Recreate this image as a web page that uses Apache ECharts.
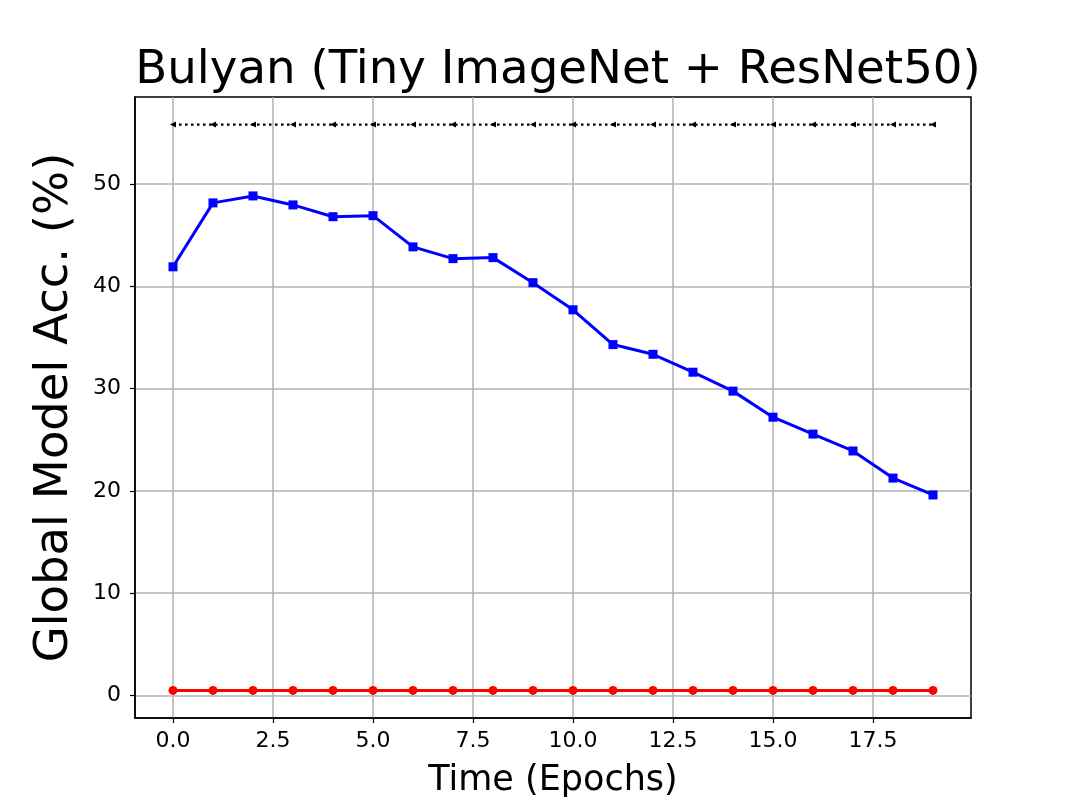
<!DOCTYPE html>
<html><head><meta charset="utf-8">
<script src="https://cdn.jsdelivr.net/npm/echarts@6/dist/echarts.min.js"></script>
<style>html,body{margin:0;padding:0;background:#fff}#c{width:1079px;height:809px}</style>
</head><body><div id="c"></div>
<script>
const epochs = [0,1,2,3,4,5,6,7,8,9,10,11,12,13,14,15,16,17,18,19];
const blueAcc = [41.9,48.15,48.83,47.95,46.8,46.9,43.85,42.7,42.8,40.35,37.7,34.3,33.35,31.6,29.75,27.2,25.55,23.9,21.25,19.6];
const redAcc = [0.5,0.5,0.5,0.5,0.5,0.5,0.5,0.5,0.5,0.5,0.5,0.5,0.5,0.5,0.5,0.5,0.5,0.5,0.5,0.5];
const baselineAcc = [55.8,55.8,55.8,55.8,55.8,55.8,55.8,55.8,55.8,55.8,55.8,55.8,55.8,55.8,55.8,55.8,55.8,55.8,55.8,55.8];
const xTicks = [0,2.5,5,7.5,10,12.5,15,17.5];
const yTicks = [0,10,20,30,40,50];
const FONT = 'DejaVu Sans';
const pair = (ys) => epochs.map((x,i)=>[x, ys[i]]);
const chart = echarts.init(document.getElementById('c'), null, {renderer:'canvas'});
chart.setOption({
  animation:false,
  backgroundColor:'#fff',
  title:{text:'Bulyan (Tiny ImageNet + ResNet50)', left:553, textAlign:'center', top:42,
    textStyle:{fontFamily:FONT, fontSize:46.7, fontWeight:'normal', color:'#000'}},
  grid:{left:135, right:108, top:97, bottom:91, containLabel:false, show:true, borderColor:'#000', borderWidth:1.5, backgroundColor:'transparent'},
  xAxis:{type:'value', min:-0.95, max:19.95,
    name:'Time (Epochs)', nameLocation:'middle', nameGap:45,
    nameTextStyle:{fontFamily:FONT, fontSize:35, color:'#000'},
    axisLine:{show:true, onZero:false, lineStyle:{color:'#000', width:1.5}},
    axisTick:{show:true, length:5, customValues:xTicks, lineStyle:{color:'#000', width:1.2}},
    axisLabel:{customValues:xTicks, formatter:v=>v.toFixed(1), fontFamily:FONT, fontSize:22, color:'#000', margin:12},
    splitLine:{show:true, lineStyle:{color:'#b0b0b0', width:1.5}}},
  yAxis:{type:'value', min:-2.2, max:58.5,
    name:'Global Model Acc. (%)', nameLocation:'middle', nameGap:57,
    nameTextStyle:{fontFamily:FONT, fontSize:46.5, color:'#000'},
    axisLine:{show:true, onZero:false, lineStyle:{color:'#000', width:1.5}},
    axisTick:{show:true, length:5, customValues:yTicks, lineStyle:{color:'#000', width:1.2}},
    axisLabel:{customValues:yTicks, fontFamily:FONT, fontSize:22, color:'#000', margin:14},
    splitLine:{show:true, lineStyle:{color:'#b0b0b0', width:1.5}}},
  series:[
    {type:'line', data:pair(baselineAcc), symbol:'path://M0,5 L10,0 L10,10 Z', symbolSize:[6,6], symbolKeepAspect:true, showAllSymbol:true,
      itemStyle:{color:'#000'}, lineStyle:{color:'#000', width:2.2, type:[2.5,3.5]}, z:3},
    {type:'line', data:pair(blueAcc), symbol:'rect', symbolSize:9, showAllSymbol:true,
      itemStyle:{color:'#0000ff'}, lineStyle:{color:'#0000ff', width:3}, z:4},
    {type:'line', data:pair(redAcc), symbol:'circle', symbolSize:9, showAllSymbol:true,
      itemStyle:{color:'#ff0000'}, lineStyle:{color:'#ff0000', width:3}, z:5}
  ]
});
</script></body></html>
